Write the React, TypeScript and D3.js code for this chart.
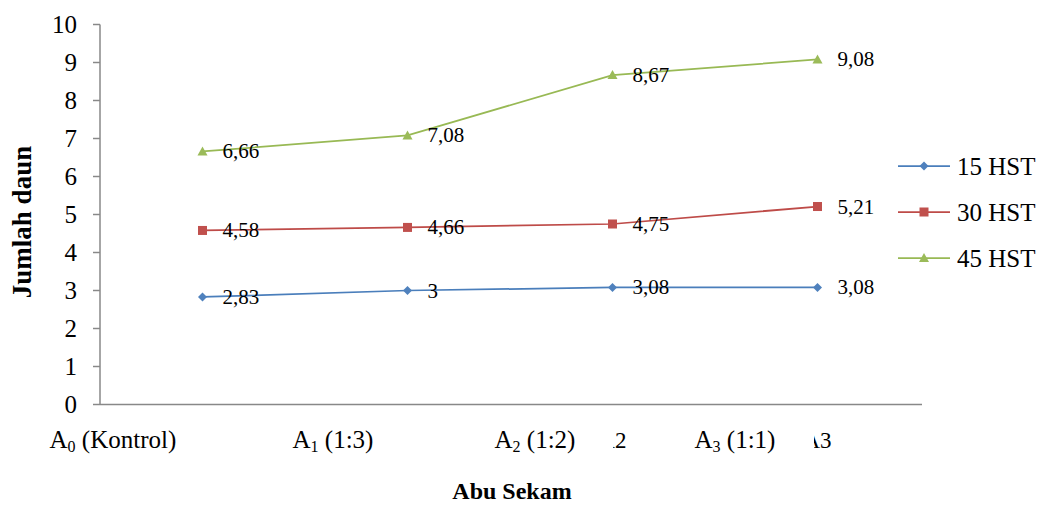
import React from "react";
import * as d3 from "d3";

const categories = ["A0", "A1", "A2", "A3"];
const seriesNames = ["15 HST", "30 HST", "45 HST"];
const hst15 = [2.83, 3, 3.08, 3.08];
const hst30 = [4.58, 4.66, 4.75, 5.21];
const hst45 = [6.66, 7.08, 8.67, 9.08];
const labels15 = ["2,83", "3", "3,08", "3,08"];
const labels30 = ["4,58", "4,66", "4,75", "5,21"];
const labels45 = ["6,66", "7,08", "8,67", "9,08"];
const yTicks = [0, 1, 2, 3, 4, 5, 6, 7, 8, 9, 10];
// overlay category text boxes: main letter, subscript, rest
const overlayMain = ["A", "A", "A", "A"];
const overlaySub = ["0", "1", "2", "3"];
const overlayRest = [" (Kontrol)", " (1:3)", " (1:2)", " (1:1)"];

const W = 1040;
const H = 506;
const FONT = "'Liberation Serif', 'Times New Roman', serif";

const colors = ["#4A7EBB", "#BE4B48", "#98B954"];
const fills = ["#4F81BD", "#C0504D", "#9BBB59"];

function Marker({ kind, x, y, color }: { kind: number; x: number; y: number; color: string }) {
  if (kind === 0) {
    const r = 4.5;
    return <path d={`M${x},${y - r}L${x + r},${y}L${x},${y + r}L${x - r},${y}Z`} fill={color} />;
  }
  if (kind === 1) {
    return <rect x={x - 4.5} y={y - 4.5} width={9} height={9} fill={color} />;
  }
  return <path d={`M${x},${y - 5}L${x + 5},${y + 4}L${x - 5},${y + 4}Z`} fill={color} />;
}

export default function App() {
  const x = d3.scaleBand<string>().domain(categories).range([100, 920]).padding(0);
  const y = d3.scaleLinear().domain([0, 10]).range([404.5, 24.5]);
  const cx = (c: string) => (x(c) as number) + x.bandwidth() / 2;

  const series = [hst15, hst30, hst45];
  const lbls = [labels15, labels30, labels45];
  const line = d3
    .line<number>()
    .x((_, i) => cx(categories[i]))
    .y((d) => y(d));

  // overlay label offsets from category centres, and text box extents (white boxes)
  const overlayOffsets = [-153, -115, -118, -123];
  const boxLeft = [40, 285, 490, 690];
  const boxRight = [225, 430, 613, 814];

  return (
    <svg
      width={W}
      height={H}
      style={{ position: "absolute", left: 0, top: 0, background: "#fff" }}
      fontFamily={FONT}
    >
      <rect width={W} height={H} fill="#fff" />
      {/* Y axis */}
      <line x1={100} x2={100} y1={y(10)} y2={y(0)} stroke="#888" strokeWidth={1.5} />
      {yTicks.map((t) => (
        <g key={t}>
          <line x1={93} x2={100} y1={y(t)} y2={y(t)} stroke="#888" strokeWidth={1.5} />
          <text x={77} y={y(t)} dy="0.35em" textAnchor="end" fontSize={25} fill="#000">
            {t}
          </text>
        </g>
      ))}
      {/* X axis */}
      <line x1={100} x2={922} y1={y(0)} y2={y(0)} stroke="#888" strokeWidth={1.5} />
      {/* underlying category labels */}
      {categories.map((c) => (
        <text key={c} x={cx(c)} y={448} textAnchor="middle" fontSize={23} fill="#000">
          {c}
        </text>
      ))}
      {/* text boxes covering them */}
      {categories.map((c, i) => (
        <rect key={"b" + c} x={boxLeft[i]} y={425} width={boxRight[i] - boxLeft[i]} height={32} fill="#fff" />
      ))}
      {categories.map((c, i) => (
        <text key={"o" + c} x={cx(c) + overlayOffsets[i]} y={448} fontSize={25} fill="#000">
          {overlayMain[i]}
          <tspan fontSize={16} dy={4}>
            {overlaySub[i]}
          </tspan>
          <tspan dy={-4}>{overlayRest[i]}</tspan>
        </text>
      ))}
      {/* Axis titles */}
      <text x={512} y={499} textAnchor="middle" fontSize={24} fontWeight="bold">
        Abu Sekam
      </text>
      <text
        transform={`translate(31,222) rotate(-90)`}
        textAnchor="middle"
        fontSize={27}
        fontWeight="bold"
      >
        Jumlah daun
      </text>
      {/* Series */}
      {series.map((s, k) => (
        <g key={k}>
          <path d={line(s) || ""} fill="none" stroke={colors[k]} strokeWidth={1.75} />
          {s.map((v, i) => (
            <Marker key={i} kind={k} x={cx(categories[i])} y={y(v)} color={fills[k]} />
          ))}
          {s.map((v, i) => (
            <text key={"t" + i} x={cx(categories[i]) + 20} y={y(v) + 7} fontSize={21} fill="#000">
              {lbls[k][i]}
            </text>
          ))}
        </g>
      ))}
      {/* Legend */}
      {seriesNames.map((n, k) => {
        const ly = 166 + k * 46;
        return (
          <g key={n}>
            <line x1={898} x2={950} y1={ly} y2={ly} stroke={colors[k]} strokeWidth={1.75} />
            <Marker kind={k} x={924} y={ly} color={fills[k]} />
            <text x={957} y={ly} dy="0.35em" fontSize={25} fill="#000">
              {n}
            </text>
          </g>
        );
      })}
    </svg>
  );
}
